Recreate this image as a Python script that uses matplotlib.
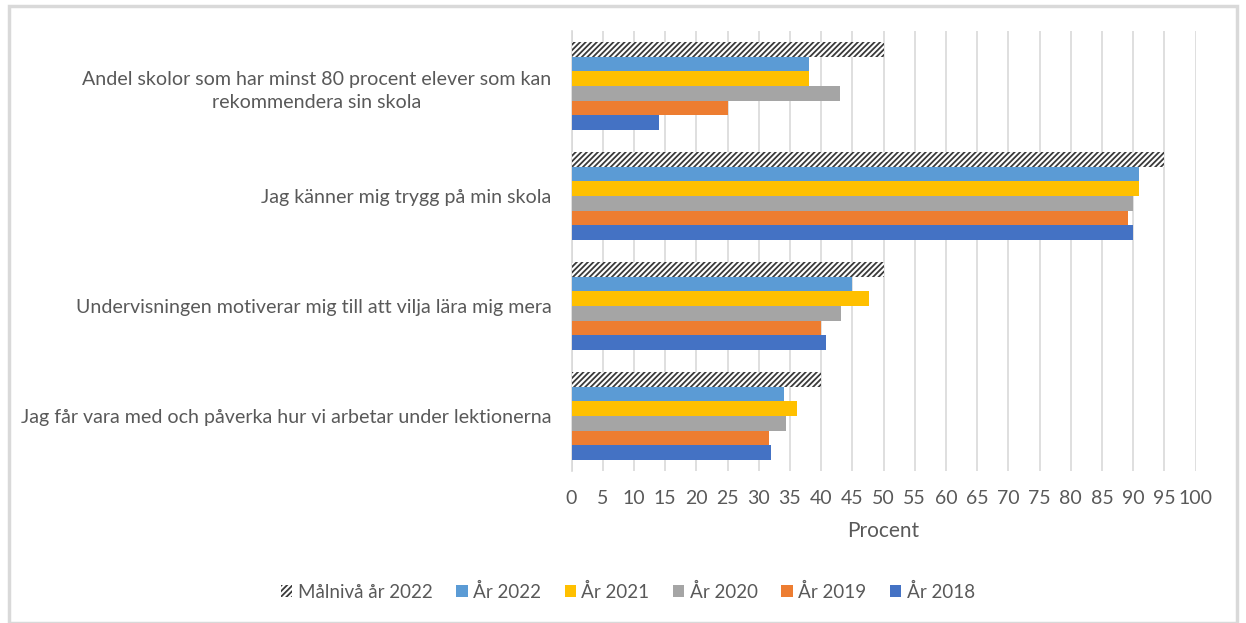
import matplotlib
matplotlib.use("Agg")
import matplotlib.pyplot as plt
import numpy as np
from matplotlib.patches import Rectangle

plt.rcParams['font.family'] = ['Lato', 'DejaVu Sans']

categories = [
    "Andel skolor som har minst 80 procent elever som kan\nrekommendera sin skola",
    "Jag känner mig trygg på min skola",
    "Undervisningen motiverar mig till att vilja lära mig mera",
    "Jag får vara med och påverka hur vi arbetar under lektionerna",
]
series_names = ["Målnivå år 2022", "År 2022", "År 2021", "År 2020", "År 2019", "År 2018"]
malniva_2022 = [50, 95, 50, 40]
ar_2022 = [38, 91, 45, 34]
ar_2021 = [38, 91, 47.6, 36.2]
ar_2020 = [43, 90, 43.2, 34.4]
ar_2019 = [25, 89.2, 40, 31.7]
ar_2018 = [14, 90, 40.8, 31.9]
values = [malniva_2022, ar_2022, ar_2021, ar_2020, ar_2019, ar_2018]
colors = [None, "#5B9BD5", "#FFC000", "#A5A5A5", "#ED7D31", "#4472C4"]
xticks = list(range(0, 101, 5))

W, H = 1246, 623
fig = plt.figure(figsize=(W / 100, H / 100), dpi=100)
# outer border
fig.patches.append(Rectangle((8.5 / W, 0), (1237 - 8.5) / W, 1 - 5.5 / H,
                             transform=fig.transFigure, fill=False,
                             edgecolor="#d9d9d9", linewidth=2.5))

left, right = 571.5, 1195.5
top, bottom = 31, 471
ax = fig.add_axes([left / W, 1 - bottom / H, (right - left) / W, (bottom - top) / H])

n_cat = len(categories)
n_ser = len(series_names)
bar_h = 0.132
y_centers = np.arange(n_cat)
plt.rcParams['hatch.linewidth'] = 1.3
for i, (name, vals, col) in enumerate(zip(series_names, values, colors)):
    offs = (i - (n_ser - 1) / 2) * bar_h
    ys = y_centers + offs
    if col is None:
        ax.barh(ys, vals, height=bar_h, color="white", edgecolor="#3a3a3a",
                hatch="//////", linewidth=0, label=name, zorder=3)
    else:
        ax.barh(ys, vals, height=bar_h, color=col, label=name, zorder=3)

ax.set_ylim(n_cat - 0.5, -0.5)
ax.set_xlim(0, 100)
ax.set_xticks(xticks)
ax.set_xticklabels([str(t) for t in xticks], fontsize=14, color="#595959")
ax.set_yticks(y_centers)
ax.set_yticklabels(categories, fontsize=14.1, color="#595959", ha="right",
                   multialignment="center", linespacing=1.45)
ax.tick_params(axis="y", length=0, pad=14.5)
ax.tick_params(axis="x", length=0, pad=14)
ax.grid(axis="x", color="#d9d9d9", linewidth=1.2, zorder=0)
for s in ["top", "right", "bottom"]:
    ax.spines[s].set_visible(False)
ax.spines["left"].set_color("#d9d9d9")
ax.spines["left"].set_linewidth(1.2)
ax.set_xlabel("Procent", fontsize=15, color="#595959", labelpad=10)

handles, labels = ax.get_legend_handles_labels()
leg = fig.legend(handles, labels, loc="center", bbox_to_anchor=(628 / W, 1 - 592 / H),
                 ncol=6, frameon=False, fontsize=13.5, labelcolor="#595959",
                 handlelength=0.6, handleheight=0.6, handletextpad=0.3,
                 columnspacing=1.25)

fig.savefig("out.png", dpi=100)
